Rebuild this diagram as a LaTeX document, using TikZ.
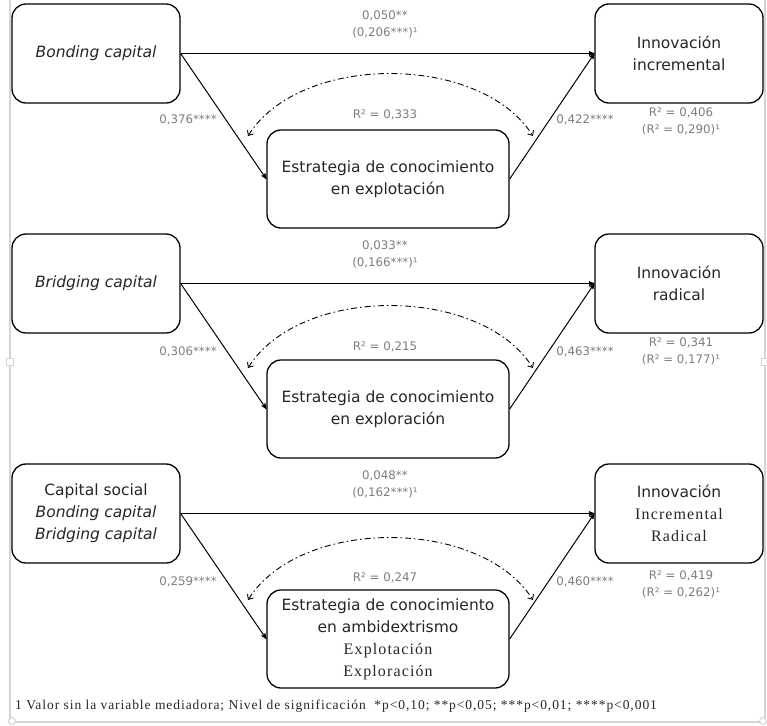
\documentclass[tikz,border=0pt]{standalone}
\usepackage{fontspec}
\setmainfont{Liberation Serif}
\setsansfont{DejaVu Sans}
\newfontfamily\wideserif[LetterSpace=7]{Liberation Serif}
\usepackage{tikz}
\usetikzlibrary{arrows}
\usetikzlibrary{arrows.meta}
\definecolor{labgray}{RGB}{125,125,125}
\definecolor{framegray}{RGB}{212,212,212}
\newcommand{\serifline}[1]{{\wideserif\fontsize{16}{22}\selectfont #1}}
\tikzset{
    var/.style = {align=center, inner sep=0pt, draw=black, line width=1.3pt, rounded corners=14pt, text=black!85, font=\sffamily\fontsize{15.5}{22}\selectfont},
    outer/.style = {var, minimum width=168pt, minimum height=99pt},
    med/.style = {var, minimum width=242pt, minimum height=98pt},
    coef/.style = {align=center, inner sep=0pt, text=labgray, font=\sffamily\fontsize{11.8}{17}\selectfont},
    path/.style = {->, line width=1pt},
    corr/.style = {{Straight Barb[length=4pt,width=7pt]}-{Straight Barb[length=4pt,width=7pt]}, line width=0.9pt, dash pattern=on 6pt off 3pt on 1.5pt off 3pt},
    handle/.style = {draw=framegray, fill=white, line width=1pt, minimum size=7pt, inner sep=0pt}
}

\begin{document}
\begin{tikzpicture}[x=1pt, y=-1pt, >=stealth']
    \useasboundingbox (0,0) rectangle (767,725);
    % frame of the text box
    \draw[framegray, line width=1.2pt] (10,0) -- (10,722) -- (765,722) -- (765,0);
    \node[handle] (h1) at (10,362) {};
    \node[handle] (h2) at (765,362) {};
    \node[handle, circle] (h3) at (12,721) {};
    \node[handle, circle] (h4) at (763,721) {};

    % bonding / explotacion
    \node[outer] (bond) at (96,53.5) {\textit{Bonding capital}};
    \node[outer] (incr) at (679,53.5) {Innovación\\incremental};
    \node[med] (expt) at (388,179) {Estrategia de conocimiento\\en explotación};
    \draw[path] (bond.east) -- (incr.west);
    \draw[path] (bond.east) -- (expt.west);
    \draw[path] (expt.east) -- (incr.west);
    \coordinate (expt-l) at (248,136);
    \coordinate (expt-r) at (533,136);
    \draw[corr] (expt-l) .. controls (300,53) and (480,53) .. (expt-r);
    \node[coef] (d1) at (385,24) {0,050**\\(0,206***)¹};
    \node[coef] (a1) at (188,120) {0,376****};
    \node[coef] (r1) at (385,115) {R² = 0,333};
    \node[coef] (b1) at (585,120) {0,422****};
    \node[coef] (q1) at (681,121) {R² = 0,406\\(R² = 0,290)¹};

    % bridging / exploracion
    \begin{scope}[yshift=-230pt]
    \node[outer] (brid) at (96,53.5) {\textit{Bridging capital}};
    \node[outer] (radi) at (679,53.5) {Innovación\\radical};
    \node[med] (expr) at (388,179) {Estrategia de conocimiento\\en exploración};
    \draw[path] (brid.east) -- (radi.west);
    \draw[path] (brid.east) -- (expr.west);
    \draw[path] (expr.east) -- (radi.west);
    \coordinate (expr-l) at (248,138);
    \coordinate (expr-r) at (533,138);
    \draw[corr] (expr-l) .. controls (300,55) and (480,55) .. (expr-r);
    \node[coef] (d2) at (385,24) {0,033**\\(0,166***)¹};
    \node[coef] (a2) at (188,122) {0,306****};
    \node[coef] (r2) at (385,117) {R² = 0,215};
    \node[coef] (b2) at (585,122) {0,463****};
    \node[coef] (q2) at (681,121) {R² = 0,341\\(R² = 0,177)¹};
    \end{scope}

    % capital social / ambidextrismo
    \begin{scope}[yshift=-460pt]
    \node[outer] (soci) at (96,53.5) {Capital social\\\textit{Bonding capital}\\\textit{Bridging capital}};
    \node[outer] (inno) at (679,53.5) {Innovación\\\serifline{Incremental}\\\serifline{Radical}};
    \node[med] (ambi) at (388,179) {Estrategia de conocimiento\\en ambidextrismo\\\serifline{Explotación}\\\serifline{Exploración}};
    \draw[path] (soci.east) -- (inno.west);
    \draw[path] (soci.east) -- (ambi.west);
    \draw[path] (ambi.east) -- (inno.west);
    \coordinate (ambi-l) at (248,140);
    \coordinate (ambi-r) at (533,140);
    \draw[corr] (ambi-l) .. controls (300,57) and (480,57) .. (ambi-r);
    \node[coef] (d3) at (385,24) {0,048**\\(0,162***)¹};
    \node[coef] (a3) at (188,122) {0,259****};
    \node[coef] (r3) at (385,118) {R² = 0,247};
    \node[coef] (b3) at (585,122) {0,460****};
    \node[coef] (q3) at (681,124) {R² = 0,419\\(R² = 0,262)¹};
    \end{scope}

    \node[anchor=west, inner sep=0pt, text=black!85, font=\wideserif\fontsize{13.5}{15}\selectfont] (note) at (15,706)
        {1 Valor sin la variable mediadora; Nivel de significación\ \ *p<0,10; **p<0,05; ***p<0,01; ****p<0,001};
\end{tikzpicture}
\end{document}
